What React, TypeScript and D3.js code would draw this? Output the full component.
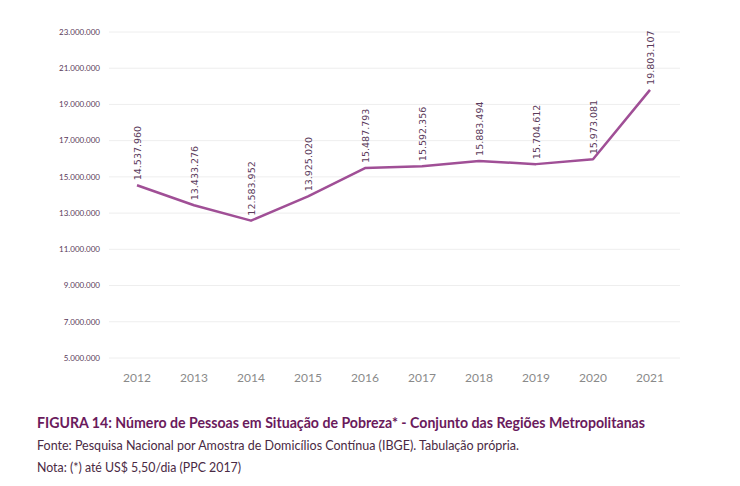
import React from "react";
import * as d3 from "d3";

const years = ["2012","2013","2014","2015","2016","2017","2018","2019","2020","2021"];
const values = [14537960, 13433276, 12583952, 13925020, 15487793, 15592356, 15883494, 15704612, 15973081, 19803107];
const yTicks = [5000000, 7000000, 9000000, 11000000, 13000000, 15000000, 17000000, 19000000, 21000000, 23000000];
const title = "FIGURA 14: Número de Pessoas em Situação de Pobreza* - Conjunto das Regiões Metropolitanas";
const source = "Fonte: Pesquisa Nacional por Amostra de Domicílios Contínua (IBGE). Tabulação própria.";
const note = "Nota: (*) até US$ 5,50/dia (PPC 2017)";

const W = 740, H = 486;
const fmt = (v: number) => d3.format(",")(v).replace(/,/g, ".");

export default function App() {
  const x = d3.scalePoint<string>().domain(years).range([137, 650]);
  const y = d3.scaleLinear().domain([5000000, 23000000]).range([358, 32]);
  const line = d3.line<number>().x((_, i) => x(years[i])!).y(d => y(d));
  return (
    <svg width={W} height={H} style={{ position: "absolute", left: 0, top: 0, background: "#fff" }}>
      {yTicks.map(t => (
        <g key={t}>
          <line x1={109} x2={680} y1={y(t)} y2={y(t)} stroke="#eeeeee" strokeWidth={1} />
          <text x={100} y={y(t)} dy="0.35em" textAnchor="end" fontFamily="Lato, sans-serif" fontSize={8} fill="#5a3a5a">{fmt(t)}</text>
        </g>
      ))}
      {years.map(yr => (
        <text key={yr} x={x(yr)} y={382} textAnchor="middle" fontFamily="Lato, sans-serif" fontSize={12} fill="#8a8a8a">{yr}</text>
      ))}
      <path d={line(values)!} fill="none" stroke="#a04f96" strokeWidth={2.5} strokeLinejoin="round" />
      {values.map((v, i) => {
        const px = x(years[i])!, py = y(v) - 5;
        return (
          <text key={i} transform={`translate(${px + 3.5},${py}) rotate(-90)`} textAnchor="start" fontFamily="'DejaVu Sans', sans-serif" fontSize={9.5} fill="#5a3a5a">{fmt(v)}</text>
        );
      })}
      <text x={37} y={428} fontFamily="Lato, sans-serif" fontWeight="bold" fontSize={14.5} fill="#6a1a5c" textLength={608} lengthAdjust="spacingAndGlyphs">{title}</text>
      <text x={37} y={450} fontFamily="Lato, sans-serif" fontSize={12.5} fill="#4a2a44" textLength={482} lengthAdjust="spacingAndGlyphs">{source}</text>
      <text x={37} y={472} fontFamily="Lato, sans-serif" fontSize={12.5} fill="#4a2a44" textLength={204} lengthAdjust="spacingAndGlyphs">{note}</text>
    </svg>
  );
}
